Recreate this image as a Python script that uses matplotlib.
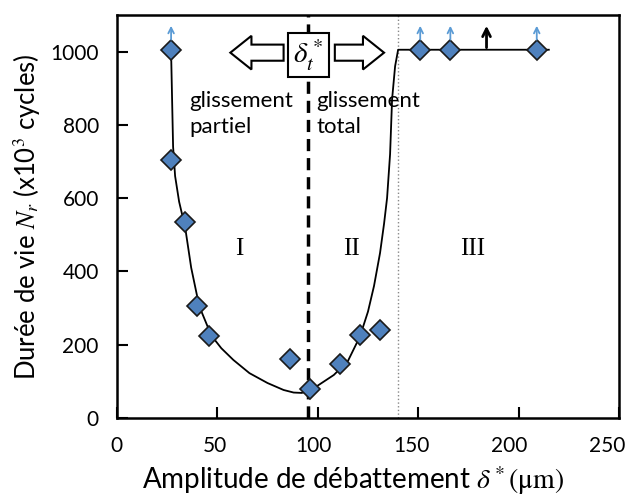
import matplotlib.pyplot as plt
from matplotlib.patches import FancyArrow, Rectangle
from matplotlib.transforms import ScaledTranslation

plt.rcParams['font.family'] = ['Lato', 'DejaVu Sans']
plt.rcParams['mathtext.fontset'] = 'stix'

# measured fretting lives (x10^3 cycles) vs displacement amplitude (um)
amp = [27, 27, 34, 40, 46, 86, 96, 111, 121, 131, 151, 166, 209]
life = [1005, 705, 536, 306, 224, 161, 79, 148, 227, 240, 1005, 1005, 1005]

# run-outs (test stopped at 10^6 cycles, no failure)
runout_amp = [27, 151, 166, 209]

# trend line
curve_x = [27, 27.5, 28, 29, 31, 34, 37, 41, 47, 52, 58, 66, 75, 83, 88, 92,
           95, 100, 108, 115, 121, 125, 128, 131, 133, 134.5, 136, 137, 138.5,
           140, 215]
curve_y = [1000, 870, 740, 660, 590, 520, 410, 305, 225, 190, 158, 122, 95,
           76, 69, 68, 72, 88, 117, 155, 222, 290, 360, 450, 530, 600, 720,
           870, 960, 1005, 1005]

delta_t = 95       # transition partial / gross slip
delta_lim = 140    # upper limit of domain II

fig = plt.figure(figsize=(6.35, 4.98), dpi=100)
ax = fig.add_axes([0.184, 0.161, 0.791, 0.809])

ax.plot(curve_x, curve_y, color='black', lw=1.3, zorder=2)
ax.plot(amp, life, ls='none', marker='D', ms=10, mfc='#4F81BD', mec='#1a1a1a',
        mew=1.2, zorder=3)

ax.axvline(delta_t, color='black', lw=2.5, ls=(0, (3.5, 2)), zorder=1)
ax.axvline(delta_lim, color='#888888', lw=1, ls=':', zorder=1)

for x in runout_amp:
    ax.annotate('', xy=(x, 1078), xytext=(x, 1025),
                arrowprops=dict(arrowstyle='->', color='#5B9BD5', lw=1.3))
ax.annotate('', xy=(184, 1078), xytext=(184, 1003),
            arrowprops=dict(arrowstyle='->', color='black', lw=2,
                            mutation_scale=14))

# slip regime box with hollow arrows
ax.add_patch(Rectangle((85, 930), 20.5, 120, fc='white', ec='black', lw=1.5,
                       zorder=4))
ax.text(95.2, 990, r'$\delta_t^*$', ha='center', va='center', fontsize=21,
        zorder=5)
ax.add_patch(FancyArrow(83, 997, -16, 0, width=44, head_width=92,
                        head_length=10.5, fc='white', ec='black', lw=1.5,
                        length_includes_head=False))
ax.add_patch(FancyArrow(108.5, 997, 14, 0, width=44, head_width=92,
                        head_length=10.5, fc='white', ec='black', lw=1.5,
                        length_includes_head=False))

ax.text(36, 830, 'glissement\npartiel', ha='left', va='center', fontsize=16,
        linespacing=1.35)
ax.text(99.5, 830, 'glissement\ntotal', ha='left', va='center', fontsize=16,
        linespacing=1.35)

for label, x in [('I', 61), ('II', 117), ('III', 177)]:
    ax.text(x, 460, label, ha='center', va='center', fontsize=18,
            family='Liberation Serif')

ax.set_xlim(0, 250)
ax.set_ylim(0, 1100)
ax.set_xticks([0, 50, 100, 150, 200, 250])
ax.set_yticks([0, 200, 400, 600, 800, 1000])
ax.tick_params(direction='in', length=8, width=1.5, labelsize=15, pad=13)
for s in ax.spines.values():
    s.set_linewidth(1.8)

# x tick labels drift slightly left in the original
for i, lbl in enumerate(ax.get_xticklabels()):
    lbl.set_transform(lbl.get_transform() +
                      ScaledTranslation(-0.024 * i, 0, fig.dpi_scale_trans))

ax.set_xlabel(r'Amplitude de débattement $\delta^*(\mathrm{μm})$', fontsize=20)
ax.xaxis.set_label_coords(0.47, -0.115)
ax.set_ylabel(r'Durée de vie $N_r$ (x10$^3$ cycles)', fontsize=18.5, labelpad=6)

fig.savefig('out.png', dpi=100)
